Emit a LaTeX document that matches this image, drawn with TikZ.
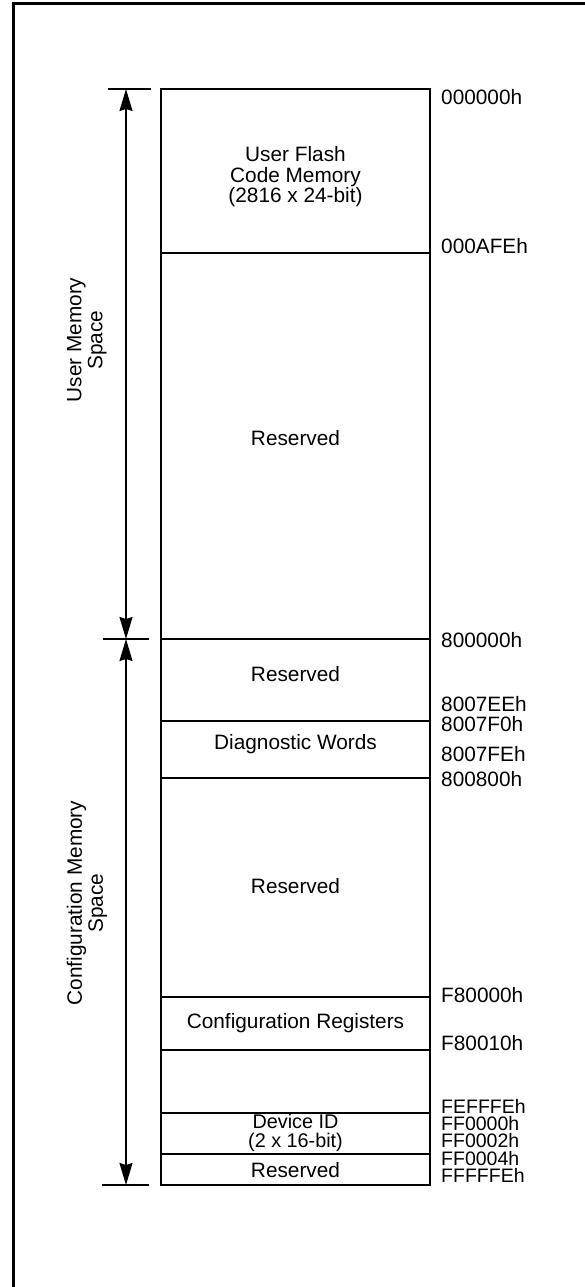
\documentclass[tikz,border=0pt]{standalone}
\usepackage{fontspec}
\setmainfont{Liberation Sans}
\usepackage{tikz}
\usetikzlibrary{arrows.meta}

\tikzset{
  mapline/.style={line width=1.8pt},
  frameline/.style={line width=3pt},
  spanarrow/.style={line width=1.6pt, {Stealth[length=22pt,width=13pt,inset=2pt]}-{Stealth[length=22pt,width=13pt,inset=2pt]}},
  tickline/.style={line width=1.8pt},
  blocktext/.style={align=center, inner sep=0pt, font=\fontsize{20.8}{20.5}\selectfont},
  addr/.style={anchor=west, inner sep=0pt, text height=15pt, text depth=0pt, font=\fontsize{20.8}{20}\selectfont},
  tightaddr/.style={addr, text height=13.5pt, font=\fontsize{19.5}{18}\selectfont},
  spacetext/.style={rotate=90, align=center, inner sep=0pt, font=\fontsize{20.8}{21}\selectfont}
}

\begin{document}
\begin{tikzpicture}[x=1pt, y=-1pt]
    \useasboundingbox (0,0) rectangle (585,1287);
    \draw[frameline] (13,1290) -- (13,4) -- (588,4);

    \draw[mapline] (161,89) rectangle (430,1185);
    \foreach \y in {253,639,721,778,997,1050,1113,1154}
        \draw[mapline] (161,\y) -- (430,\y);

    \node[blocktext] (flash) at (295.5,177) {User Flash\\Code Memory\\(2816 x 24-bit)};
    \node[blocktext] (resA) at (295.5,438) {Reserved};
    \node[blocktext] (resB) at (295.5,674) {Reserved};
    \node[blocktext] (diag) at (295.5,744) {Diagnostic Words};
    \node[blocktext] (resC) at (295.5,886) {Reserved};
    \node[blocktext] (config) at (295.5,1023) {Configuration Registers};
    \node[blocktext, font=\fontsize{19.8}{19}\selectfont] (devid) at (295.5,1133) {Device ID\\(2 x 16-bit)};
    \node[blocktext] (resD) at (295.5,1170) {Reserved};

    \node[addr] (a0) at (441,97) {000000h};
    \node[addr] (a1) at (441,246) {000AFEh};
    \node[addr] (a2) at (441,640) {800000h};
    \node[addr] (a3) at (441,704) {8007EEh};
    \node[addr] (a4) at (441,724) {8007F0h};
    \node[addr] (a5) at (441,754) {8007FEh};
    \node[addr] (a6) at (441,779) {800800h};
    \node[addr] (a7) at (441,995) {F80000h};
    \node[addr] (a8) at (441,1043) {F80010h};
    \node[tightaddr] (a9) at (441,1107) {FEFFFEh};
    \node[tightaddr] (a10) at (441,1124) {FF0000h};
    \node[tightaddr] (a11) at (441,1141) {FF0002h};
    \node[tightaddr] (a12) at (441,1159) {FF0004h};
    \node[tightaddr] (a13) at (441,1176) {FFFFFEh};

    \coordinate (utop) at (126,89);
    \coordinate (mid) at (126,639);
    \coordinate (cbot) at (126,1185);
    \draw[tickline] ([xshift=-18pt]utop) -- ([xshift=25pt]utop);
    \draw[tickline] ([xshift=-23pt]mid) -- ([xshift=23pt]mid);
    \draw[tickline] ([xshift=-24pt]cbot) -- ([xshift=23pt]cbot);
    \draw[spanarrow] (utop) -- (mid);
    \draw[spanarrow] (mid) -- (cbot);

    \node[spacetext] (userspace) at (87,340) {User Memory\\Space};
    \node[spacetext] (cfgspace) at (87,903) {Configuration Memory\\Space};
\end{tikzpicture}
\end{document}
